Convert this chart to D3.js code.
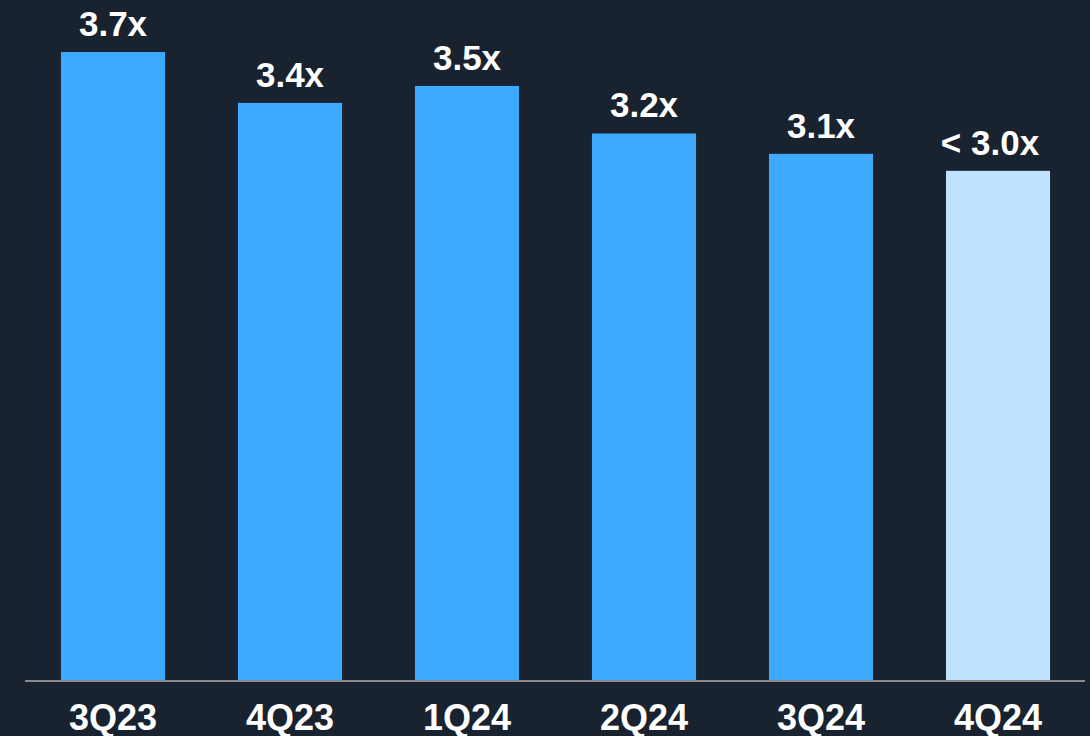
<!DOCTYPE html>
<html>
<head>
<meta charset="utf-8">
<script src="https://cdn.jsdelivr.net/npm/d3@7"></script>
<style>
  html, body { margin: 0; padding: 0; background: #19222f; }
  svg { display: block; }
  .barlabel, .xlabel { fill: #ffffff; font-family: "Liberation Sans", Arial, sans-serif; font-weight: bold; }
</style>
</head>
<body>
<div id="chart"></div>
<script>
// quarters on the x axis
var quarters = ["3Q23", "4Q23", "1Q24", "2Q24", "3Q24", "4Q24"];
// leverage multiple
var leverage = [3.7, 3.4, 3.5, 3.22, 3.1, 3.0];
// text printed over each bar
var barText = ["3.7x", "3.4x", "3.5x", "3.2x", "3.1x", "< 3.0x"];
// last one is the target / estimate
var isTarget = [false, false, false, false, false, true];

var W = 1090, H = 736;
var margin = {top: 52, right: 4, bottom: 56, left: 25};
var width = W - margin.left - margin.right,
    height = H - margin.top - margin.bottom;

var svg = d3.select("#chart").append("svg")
    .attr("width", W)
    .attr("height", H)
  .append("g")
    .attr("transform", "translate(" + margin.left + "," + margin.top + ")");

var data = quarters.map(function(q, i) {
  return {q: q, v: leverage[i], t: barText[i], target: isTarget[i]};
});

//--SCALES---------------------
var x = d3.scaleBand()
    .domain(quarters)
    .range([-0.5, 6 * 177 - 0.5])
    .paddingInner(0.412)
    .paddingOuter(0.206);

var y = d3.scaleLinear()
    .domain([0, 3.7])
    .range([height, 0]);

//--BARS---------------------
svg.append("g").attr("class", "bars")
  .selectAll("rect")
  .data(data)
  .enter().append("rect")
    .attr("x", function(d) { return x(d.q); })
    .attr("y", function(d) { return y(d.v); })
    .attr("width", x.bandwidth())
    .attr("height", function(d) { return height - y(d.v); })
    .style("fill", function(d) { return d.target ? "#bfe3ff" : "#3eaaff"; });

// value labels on top ("< " label sits a bit left of centre)
svg.append("g")
  .selectAll("text")
  .data(data)
  .enter().append("text")
    .attr("class", "barlabel")
    .attr("x", function(d) { return x(d.q) + x.bandwidth() / 2; })
    .attr("dx", function(d) { return d.target ? -8 : 0; })
    .attr("y", function(d) { return y(d.v) - 16; })
    .attr("text-anchor", "middle")
    .style("font-size", "35px")
    .text(function(d) { return d.t; });

//--X AXIS---------------------
var xAxis = svg.append("g")
    .attr("class", "xaxis")
    .attr("transform", "translate(0," + height + ")")
    .call(d3.axisBottom(x).tickSize(0).tickPadding(0));

xAxis.select(".domain")
    .attr("d", "M0,1H" + (6 * 177 - 2))
    .style("stroke", "#8a8a8a")
    .style("stroke-width", 2);

xAxis.selectAll(".tick text")
    .attr("class", "xlabel")
    .attr("dy", null)
    .attr("y", 50)
    .style("font-size", "36px");
</script>
</body>
</html>
